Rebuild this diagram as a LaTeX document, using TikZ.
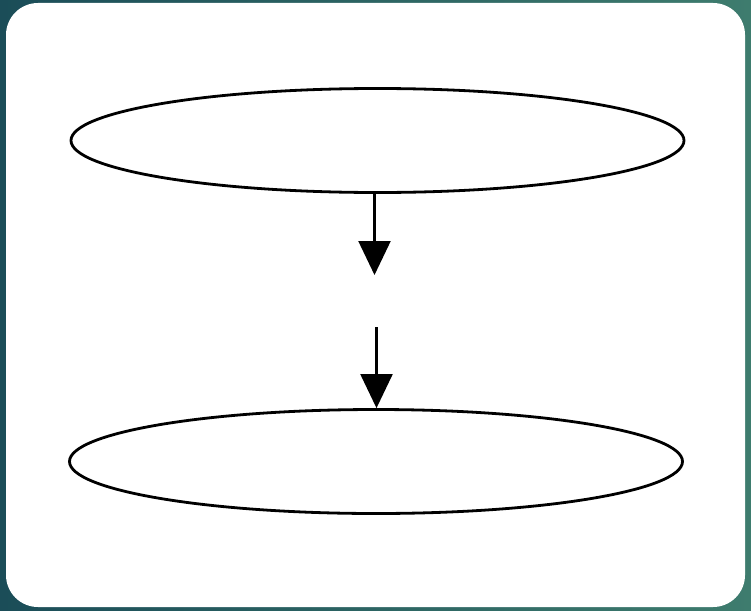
\documentclass[tikz,border=0pt]{standalone}
\usetikzlibrary{shapes.geometric,arrows.meta}
\definecolor{bgdark}{HTML}{1B4D58}
\definecolor{bglight}{HTML}{3E7C6E}
\begin{document}
\begin{tikzpicture}[x=1pt,y=-1pt,
  oval/.style={ellipse,draw=black,line width=2.8pt,minimum width=613pt,minimum height=104pt,inner sep=0pt,fill=white},
  flow/.style={draw=black,line width=2.2pt,-{Triangle[length=34pt,width=32pt]}}]
\useasboundingbox (0,0) rectangle (751,610);
\shade[left color=bgdark,right color=bglight] (0,0) rectangle (751,610);
\fill[white,rounded corners=32pt] (6,3) rectangle (745,607);
\node[oval] (top) at (377.5,140.5) {};
\node[oval] (bot) at (376,461.5) {};
\coordinate (g1) at (374.5,275);
\coordinate (g2) at (376.5,327);
\draw[flow] (top.south -| g1) -- (g1);
\draw[flow] (g2) -- (g2 |- bot.north);
\end{tikzpicture}
\end{document}
